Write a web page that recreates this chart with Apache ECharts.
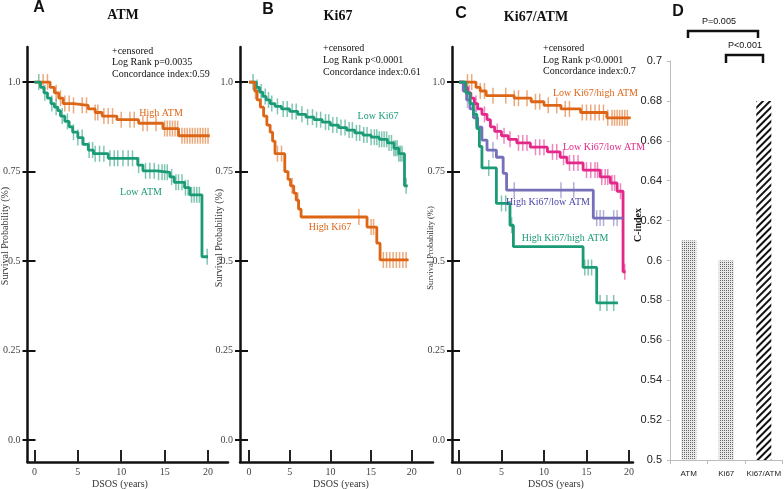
<!DOCTYPE html>
<html><head><meta charset="utf-8">
<script src="https://cdn.jsdelivr.net/npm/echarts@6/dist/echarts.min.js"></script>
<style>html,body{margin:0;padding:0;background:#fff}#c{width:784px;height:489px}</style>
</head><body><div id="c"></div>
<script>
// ---------- tick labels ----------
const yTicks = [0, 0.25, 0.5, 0.75, 1];
const xTicks = [0, 5, 10, 15, 20];

// ---------- Panel A: ATM ----------
const aHighT = [0, 1.8, 2.3, 2.8, 3.3, 4.5, 6.2, 7.0, 7.8, 9.5, 12.0, 14.8, 16.6, 20.2];
const aHighS = [1, 0.985, 0.97, 0.955, 0.94, 0.935, 0.925, 0.915, 0.905, 0.895, 0.885, 0.87, 0.85, 0.85];
const aHighCens = [1.0, 1.5, 2.5, 3.0, 3.5, 4.0, 4.5, 5.5, 6.0, 7.0, 7.3, 8.0, 8.5, 9.0, 10.0, 11.0, 11.5, 12.5, 13.0, 14.0, 15.0, 15.3, 15.6, 15.9, 16.2, 16.5, 17.0, 17.3, 17.6, 17.9, 18.2, 18.5, 18.8, 19.1, 19.4, 19.7, 20.0];
const aLowT = [0, 0.7, 1.1, 1.5, 1.9, 2.3, 2.7, 3.0, 3.5, 4.0, 4.4, 5.0, 5.6, 6.2, 6.8, 8.5, 11.9, 12.5, 14.1, 15.6, 16.1, 17.3, 17.9, 19.3, 20.0];
const aLowS = [1, 0.985, 0.97, 0.955, 0.94, 0.93, 0.92, 0.905, 0.89, 0.875, 0.86, 0.845, 0.826, 0.81, 0.80, 0.787, 0.768, 0.752, 0.748, 0.735, 0.72, 0.705, 0.685, 0.512, 0.512];
const aLowCens = [0.5, 1.2, 2.0, 2.5, 3.2, 3.8, 4.5, 5.0, 5.5, 6.3, 6.7, 7.0, 7.5, 8.0, 8.7, 9.2, 9.6, 10.2, 10.8, 11.3, 12.0, 12.8, 13.3, 13.8, 14.3, 14.7, 15.0, 15.3, 15.8, 16.3, 16.6, 17.0, 17.4, 17.7, 18.1, 18.4, 18.7, 19.0, 19.9];

// ---------- Panel B: Ki67 ----------
const bLowT = [0, 0.9, 1.3, 1.7, 2.1, 2.6, 3.2, 4.0, 5.0, 6.0, 7.0, 8.0, 9.0, 10.0, 11.0, 12.0, 13.0, 14.0, 15.0, 16.0, 17.0, 17.8, 18.4, 19.1, 19.5];
const bLowS = [1, 0.985, 0.972, 0.96, 0.95, 0.94, 0.932, 0.925, 0.918, 0.91, 0.902, 0.895, 0.888, 0.88, 0.873, 0.866, 0.858, 0.852, 0.846, 0.84, 0.83, 0.815, 0.80, 0.71, 0.71];
const bLowCens = [0.5, 1.0, 1.5, 2.0, 2.4, 2.8, 3.5, 4.2, 4.7, 5.3, 5.8, 6.5, 7.2, 7.8, 8.3, 8.8, 9.4, 9.8, 10.3, 10.8, 11.3, 11.8, 12.3, 12.7, 13.2, 13.6, 14.1, 14.5, 15.0, 15.4, 15.7, 16.0, 16.3, 16.6, 16.9, 17.2, 17.5, 17.8, 18.0, 18.2, 18.4, 18.6, 18.8, 19.3];
const bHighT = [0, 0.7, 1.0, 1.4, 1.8, 2.2, 2.6, 2.9, 3.2, 4.4, 4.8, 5.1, 5.5, 5.8, 6.1, 6.4, 14.5, 15.7, 16.1, 19.6];
const bHighS = [1, 0.975, 0.95, 0.93, 0.905, 0.88, 0.86, 0.835, 0.80, 0.75, 0.728, 0.71, 0.69, 0.67, 0.645, 0.623, 0.595, 0.55, 0.503, 0.503];
const bHighCens = [0.8, 3.5, 4.0, 5.3, 6.0, 13.5, 15.0, 15.3, 16.5, 16.9, 17.3, 17.7, 18.1, 18.5, 18.9, 19.3];

// ---------- Panel C: Ki67/ATM ----------
const cLhT = [0, 2.0, 2.5, 3.2, 6.5, 8.5, 10.0, 12.0, 14.3, 17.4, 20.2];
const cLhS = [1, 0.985, 0.975, 0.962, 0.955, 0.945, 0.935, 0.925, 0.915, 0.90, 0.90];
const cLhCens = [1.0, 1.5, 2.5, 3.0, 4.0, 5.5, 6.5, 7.0, 8.0, 9.0, 9.5, 10.5, 11.5, 12.5, 13.0, 14.5, 15.0, 15.5, 16.0, 16.5, 17.0, 17.5, 18.0, 18.3, 18.6, 18.9, 19.2, 19.5, 19.8];
const cLlT = [0, 0.6, 1.0, 1.4, 1.8, 2.2, 2.7, 3.3, 3.7, 4.2, 5.0, 5.8, 6.8, 8.4, 10.4, 11.9, 12.7, 14.6, 16.6, 17.8, 18.6, 19.3, 19.6];
const cLlS = [1, 0.985, 0.97, 0.955, 0.94, 0.925, 0.91, 0.895, 0.875, 0.862, 0.85, 0.84, 0.83, 0.818, 0.805, 0.79, 0.774, 0.754, 0.735, 0.718, 0.695, 0.47, 0.47];
const cLlCens = [1.2, 2.0, 3.0, 4.5, 5.3, 6.0, 7.0, 7.5, 8.0, 9.0, 9.5, 10.0, 11.0, 11.5, 12.3, 13.0, 13.5, 14.0, 15.0, 15.5, 16.0, 16.3, 16.8, 17.2, 17.5, 18.0, 18.3, 19.0, 19.5];
const cHlT = [0, 0.5, 0.9, 1.3, 1.7, 2.2, 2.7, 3.3, 4.4, 5.2, 5.6, 15.8, 19.3];
const cHlS = [1, 0.975, 0.95, 0.925, 0.90, 0.874, 0.838, 0.81, 0.79, 0.745, 0.698, 0.62, 0.62];
const cHlCens = [1.0, 2.0, 4.0, 6.5, 12.0, 13.5, 16.2, 16.6, 17.0, 18.2, 18.6, 19.3];
const cHhT = [0, 0.8, 1.3, 1.7, 2.1, 2.4, 2.7, 4.4, 6.0, 6.4, 14.6, 16.2, 18.7];
const cHhS = [1, 0.97, 0.94, 0.91, 0.87, 0.82, 0.76, 0.661, 0.60, 0.54, 0.482, 0.383, 0.383];
const cHhCens = [3.5, 5.0, 5.5, 6.2, 14.8, 15.2, 15.6, 16.6, 17.4, 18.2];

// ---------- Panel D: C-index ----------
const dCats = ['ATM', 'Ki67', 'Ki67/ATM'];
const dVals = [0.61, 0.60, 0.68];

const SERIF = '"Liberation Serif","Times New Roman",serif';
const SANS = '"Liberation Sans",Arial,sans-serif';
const ORANGE = '#dd6516', GREEN = '#1b9a76', MAGENTA = '#e3288a', PURPLE = '#7570b8';

function stepAt(t, T, S) { let s = S[0]; for (let i = 0; i < T.length; i++) { if (T[i] <= t) s = S[i]; } return s; }
function rgba(hex, a) { const n = parseInt(hex.slice(1), 16); return `rgba(${n >> 16},${(n >> 8) & 255},${n & 255},${a})`; }

const grids = [
  { left: 27, top: 47, width: 201, height: 415 },
  { left: 240, top: 47, width: 193, height: 415 },
  { left: 452, top: 47, width: 181, height: 415 },
  { left: 670, top: 61, width: 113, height: 399 }
];
const xRanges = [[-0.8, 22.3], [-1.1, 22.6], [-0.82, 20.47]];
const yMin = -0.0615, yMax = 1.098;

const xAxes = [], yAxes = [], series = [];
for (let g = 0; g < 3; g++) {
  xAxes.push({ gridIndex: g, type: 'value', min: xRanges[g][0], max: xRanges[g][1],
    axisLine: { show: true, onZero: false, lineStyle: { color: '#111', width: 2.5 } },
    axisTick: { show: true, inside: true, length: 12, customValues: xTicks, lineStyle: { color: '#222', width: 2 } },
    axisLabel: { customValues: xTicks, fontFamily: SERIF, fontSize: 10, color: '#444', margin: 5 },
    splitLine: { show: false } });
  yAxes.push({ gridIndex: g, type: 'value', min: yMin, max: yMax, position: 'left',
    axisLine: { show: true, onZero: false, lineStyle: { color: '#111', width: 2.5 } },
    axisTick: { show: true, inside: false, length: 5, customValues: yTicks, lineStyle: { color: '#111', width: 2 } },
    axisLabel: { customValues: yTicks, fontFamily: SERIF, fontSize: 10, color: '#444', margin: 7,
      formatter: v => v === 1 ? '1.0' : (v === 0 ? '0.0' : String(v)) },
    splitLine: { show: false } });
  yAxes.push({ gridIndex: g, type: 'value', min: yMin, max: yMax, position: 'left', offset: 0,
    axisLine: { show: false, onZero: false },
    axisTick: { show: true, inside: true, length: 8, customValues: yTicks, lineStyle: { color: '#111', width: 2 } },
    axisLabel: { show: false }, splitLine: { show: false } });
}
xAxes.push({ gridIndex: 3, type: 'category', data: dCats,
  axisLine: { show: true, onZero: false, lineStyle: { color: '#bcbcbc', width: 1 } },
  axisTick: { show: true, length: 4, lineStyle: { color: '#bcbcbc' } },
  axisLabel: { interval: 0, fontFamily: SANS, fontSize: 8, color: '#222', margin: 10 } });
yAxes.push({ gridIndex: 3, type: 'value', min: 0.5, max: 0.7, interval: 0.02,
  axisLine: { show: true, onZero: false, lineStyle: { color: '#bcbcbc', width: 1 } },
  axisTick: { show: true, length: 3, lineStyle: { color: '#bcbcbc' } },
  axisLabel: { fontFamily: SANS, fontSize: 11, color: '#222', margin: 8 },
  splitLine: { show: false } });

function addCurve(g, T, S, cens, color) {
  series.push({ type: 'line', xAxisIndex: g, yAxisIndex: g * 2, step: 'end', symbol: 'none',
    data: T.map((t, i) => [t, S[i]]), lineStyle: { color: color, width: 2.8 }, silent: true, z: 3 });
  series.push({ type: 'scatter', xAxisIndex: g, yAxisIndex: g * 2, symbol: 'rect', symbolSize: [1.5, 16],
    data: cens.map(t => [t, stepAt(t, T, S)]), itemStyle: { color: rgba(color, 0.7) }, silent: true, z: 2 });
}
addCurve(0, aHighT, aHighS, aHighCens, ORANGE);
addCurve(0, aLowT, aLowS, aLowCens, GREEN);
addCurve(1, bLowT, bLowS, bLowCens, GREEN);
addCurve(1, bHighT, bHighS, bHighCens, ORANGE);
addCurve(2, cLhT, cLhS, cLhCens, ORANGE);
addCurve(2, cLlT, cLlS, cLlCens, MAGENTA);
addCurve(2, cHlT, cHlS, cHlCens, PURPLE);
addCurve(2, cHhT, cHhS, cHhCens, GREEN);

const dotDecal = { symbol: 'rect', symbolSize: 1, dashArrayX: [1, 1], dashArrayY: [1, 1], color: '#666' };
const hatchDecal = { symbol: 'rect', symbolSize: 1, dashArrayX: [1, 0], dashArrayY: [1.6, 2.4], rotation: -Math.PI / 4, color: '#111' };
series.push({ type: 'bar', xAxisIndex: 3, yAxisIndex: 6, barWidth: 15,
  data: dVals.map((v, i) => ({ value: v, itemStyle: i === 2 ? { color: '#ffffff', decal: hatchDecal } : { color: '#e8e8e8', decal: dotDecal } })),
  silent: true });

function txt(x, y, text, font, fill, align, rot) {
  const el = { type: 'text', x: x, y: y, silent: true, z: 50,
    style: { text: text, font: font, fill: fill || '#111', textAlign: align || 'left', textVerticalAlign: 'middle' } };
  if (rot) el.rotation = rot;
  return el;
}
const graphics = [
  txt(39, 8, 'A', 'bold 16px ' + SANS, '#111', 'center'),
  txt(268, 10, 'B', 'bold 16px ' + SANS, '#111', 'center'),
  txt(461, 14, 'C', 'bold 16px ' + SANS, '#111', 'center'),
  txt(678, 12, 'D', 'bold 16px ' + SANS, '#111', 'center'),
  txt(123, 15, 'ATM', 'bold 14px ' + SERIF, '#111', 'center'),
  txt(338, 16, 'Ki67', 'bold 14px ' + SERIF, '#111', 'center'),
  txt(536, 17, 'Ki67/ATM', 'bold 14px ' + SERIF, '#111', 'center'),
  txt(112, 51, '+censored', '10px ' + SERIF), txt(112, 62.5, 'Log Rank p=0.0035', '10px ' + SERIF), txt(112, 74, 'Concordance index:0.59', '10px ' + SERIF),
  txt(323, 48, '+censored', '10px ' + SERIF), txt(323, 60, 'Log Rank p<0.0001', '10px ' + SERIF), txt(323, 72, 'Concordance index:0.61', '10px ' + SERIF),
  txt(543, 48, '+censored', '10px ' + SERIF), txt(543, 60, 'Log Rank p<0.0001', '10px ' + SERIF), txt(543, 71, 'Concordance index:0.7', '10px ' + SERIF),
  txt(161, 113, 'High ATM', '10px ' + SERIF, ORANGE, 'center'),
  txt(141, 192, 'Low ATM', '10px ' + SERIF, GREEN, 'center'),
  txt(378, 116, 'Low Ki67', '10px ' + SERIF, GREEN, 'center'),
  txt(330, 227, 'High Ki67', '10px ' + SERIF, ORANGE, 'center'),
  txt(553, 93, 'Low Ki67/high ATM', '10px ' + SERIF, ORANGE, 'left'),
  txt(563, 147, 'Low Ki67/low ATM', '10px ' + SERIF, MAGENTA, 'left'),
  txt(548, 202, 'High Ki67/low ATM', '10px ' + SERIF, '#4a44a8', 'center'),
  txt(565, 238, 'High Ki67/high ATM', '10px ' + SERIF, GREEN, 'center'),
  txt(5, 236, 'Survival Probability (%)', '10px ' + SERIF, '#333', 'center', Math.PI / 2),
  txt(219, 238, 'Survival Probability (%)', '10px ' + SERIF, '#333', 'center', Math.PI / 2),
  txt(431, 248, 'Survival Probability (%)', '8.5px ' + SERIF, '#333', 'center', Math.PI / 2),
  txt(120, 484, 'DSOS (years)', '10px ' + SERIF, '#333', 'center'),
  txt(341, 484, 'DSOS (years)', '10px ' + SERIF, '#333', 'center'),
  txt(556, 484, 'DSOS (years)', '10px ' + SERIF, '#333', 'center'),
  txt(638, 225, 'C-index', 'bold 10px ' + SERIF, '#111', 'center', Math.PI / 2),
  txt(719, 22, 'P=0.005', '9px ' + SANS, '#111', 'center'),
  txt(745, 46, 'P<0.001', '9px ' + SANS, '#111', 'center'),
  { type: 'polyline', silent: true, z: 50, shape: { points: [[688, 38], [688, 31], [758, 31], [758, 38]] }, style: { stroke: '#111', lineWidth: 2.5, fill: null } },
  { type: 'polyline', silent: true, z: 50, shape: { points: [[726, 63], [726, 55], [763, 55], [763, 63]] }, style: { stroke: '#111', lineWidth: 2.5, fill: null } }
];

const chart = echarts.init(document.getElementById('c'), null, { renderer: 'canvas' });
chart.setOption({
  animation: false,
  backgroundColor: '#ffffff',
  grid: grids,
  xAxis: xAxes,
  yAxis: yAxes,
  series: series,
  graphic: graphics
});
</script></body></html>
